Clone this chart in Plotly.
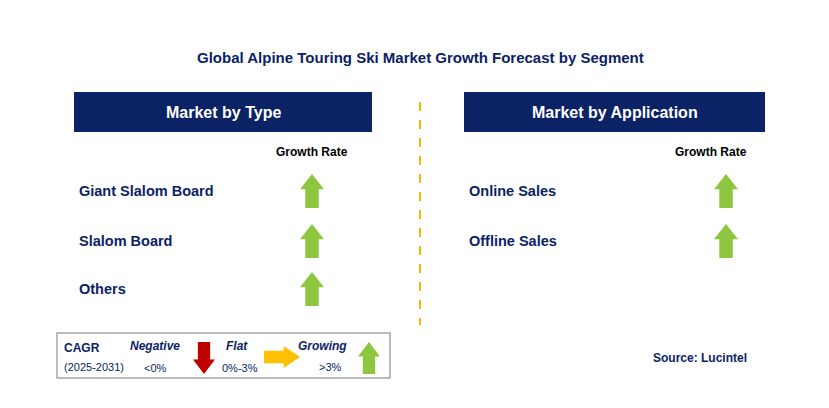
import plotly.graph_objects as go

title = "Global Alpine Touring Ski Market Growth Forecast by Segment"
panels = ["Market by Type", "Market by Application"]
type_segments = ["Giant Slalom Board", "Slalom Board", "Others"]
app_segments = ["Online Sales", "Offline Sales"]
type_y = [197, 247, 295]
app_y = [191, 241]

NAVY = "#0B2265"
GREEN = "#8DC63F"
FONT = "Liberation Sans"

fig = go.Figure()
shapes = []
ann = []


def arrow(cx, cy, h, w, color, direction="up"):
    hw = w / 2
    sw = w * 0.28
    hh = h * 0.45
    if direction == "up":
        top, bot = cy - h / 2, cy + h / 2
        p = (f"M{cx},{top} L{cx+hw},{top+hh} L{cx+sw},{top+hh} L{cx+sw},{bot} "
             f"L{cx-sw},{bot} L{cx-sw},{top+hh} L{cx-hw},{top+hh} Z")
    elif direction == "down":
        top, bot = cy - h / 2, cy + h / 2
        p = (f"M{cx},{bot} L{cx+hw},{bot-hh} L{cx+sw},{bot-hh} L{cx+sw},{top} "
             f"L{cx-sw},{top} L{cx-sw},{bot-hh} L{cx-hw},{bot-hh} Z")
    else:
        l, r = cx - h / 2, cx + h / 2
        p = (f"M{r},{cy} L{r-hh},{cy-hw} L{r-hh},{cy-sw} L{l},{cy-sw} "
             f"L{l},{cy+sw} L{r-hh},{cy+sw} L{r-hh},{cy+hw} Z")
    shapes.append(dict(type="path", path=p, fillcolor=color, line_width=0, xref="x", yref="y"))


def text(x, y, s, size=14, color=NAVY, anchor="left", bold=True, italic=False):
    if bold:
        s = f"<b>{s}</b>"
    if italic:
        s = f"<i>{s}</i>"
    ann.append(dict(x=x, y=y, text=s, showarrow=False, xanchor=anchor, yanchor="middle",
                    font=dict(family=FONT, size=size, color=color), xref="x", yref="y"))


text(420, 57, title, size=15, anchor="center")

for x0, x1, name in [(74, 372, panels[0]), (464, 765, panels[1])]:
    shapes.append(dict(type="rect", x0=x0, x1=x1, y0=92, y1=132, fillcolor=NAVY, line_width=0))
    text((x0 + x1) / 2, 112, name, size=16, color="white", anchor="center")

shapes.append(dict(type="line", x0=420, x1=420, y0=102, y1=325,
                   line=dict(color="#F5B800", width=2, dash="dash")))

text(312, 152, "Growth Rate", size=12, color="black", anchor="center")
text(711, 152, "Growth Rate", size=12, color="black", anchor="center")

for name, y in zip(type_segments, type_y):
    text(77, y - 6, name, size=14.5)
    arrow(312, y - 6, 34, 24, GREEN)
for name, y in zip(app_segments, app_y):
    text(467, y, name, size=14.5)
    arrow(726, y, 34, 24, GREEN)

# legend box
shapes.append(dict(type="rect", x0=57, x1=390, y0=333, y1=378, line=dict(color="#A6A6A6", width=1.5)))
text(62, 348, "CAGR", size=12)
text(62, 367, "(2025-2031)", size=11, bold=False)
text(155, 346, "Negative", size=12, italic=True, anchor="center")
text(155, 368, "&lt;0%", size=11, bold=False, anchor="center")
arrow(204, 358, 32, 22, "#C00000", "down")
text(237, 346, "Flat", size=12, italic=True, anchor="center")
text(240, 368, "0%-3%", size=11, bold=False, anchor="center")
arrow(282, 357, 36, 22, "#FFC000", "right")
text(322, 346, "Growing", size=12, italic=True, anchor="center")
text(330, 367, "&gt;3%", size=11, bold=False, anchor="center")
arrow(369, 358, 32, 22, GREEN)

text(700, 358, "Source: Lucintel", size=12, anchor="center")

# the page body has an 8px margin, so shift the coordinate frame to compensate
fig.update_layout(width=829, height=408, margin=dict(l=0, r=0, t=0, b=0),
                  plot_bgcolor="white", paper_bgcolor="white",
                  shapes=shapes, annotations=ann, showlegend=False,
                  xaxis=dict(range=[8, 837], visible=False, fixedrange=True),
                  yaxis=dict(range=[416, 8], visible=False, fixedrange=True))
fig.write_html("out.html")
